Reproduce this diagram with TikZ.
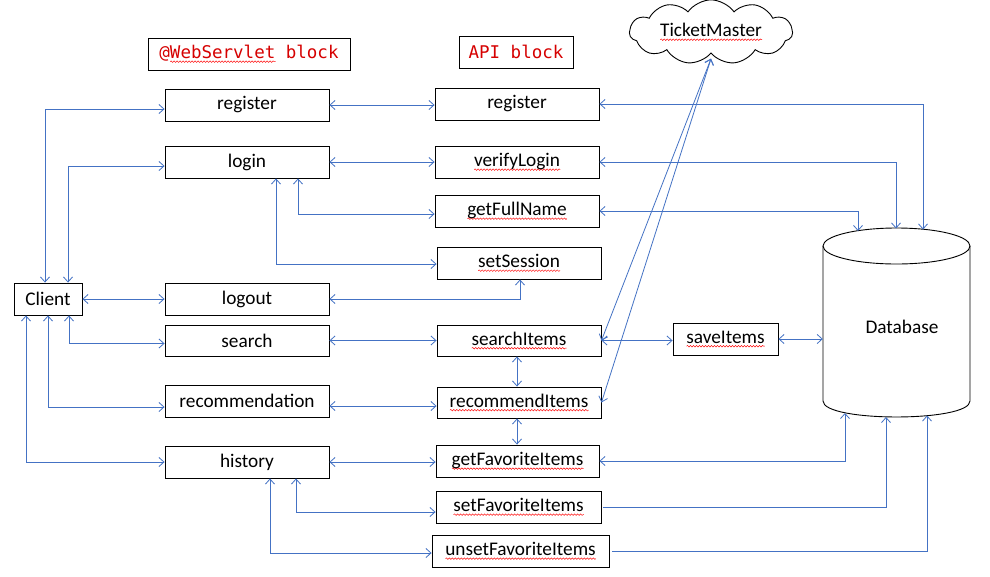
\documentclass[tikz,border=0pt]{standalone}
\usepackage{fontspec}
\setmainfont{Carlito}
\newfontfamily\codefont{DejaVu Sans Mono}
\usetikzlibrary{arrows.meta,shapes.symbols,calc,decorations.pathmorphing}
\definecolor{lblue}{HTML}{4472C4}
\definecolor{tred}{HTML}{D60000}
\newsavebox\sqwbox
\tikzset{sqline/.style={draw=red, line width=0.45pt, decorate, decoration={snake, amplitude=0.8pt, segment length=3pt}}}
\newcommand\sqw[1]{\sbox\sqwbox{#1}\rlap{\tikz[baseline=0pt]\path[sqline] (0pt,-3pt) -- (\wd\sqwbox,-3pt);}\usebox\sqwbox}
\newcommand\bodyfont{\fontsize{19.3pt}{22pt}\selectfont}
\tikzset{
  box/.style={draw, line width=0.9pt, minimum height=32pt, inner sep=0pt, font=\bodyfont},
  tbox/.style={draw, line width=0.9pt, minimum height=32pt, inner sep=0pt, text=tred, font=\codefont\fontsize{17.5pt}{20pt}\selectfont},
  conn/.style={draw=lblue, line width=0.8pt, arrows={Straight Barb[length=5pt,width=9pt]-Straight Barb[length=5pt,width=9pt]}},
  conn1/.style={draw=lblue, line width=0.8pt, arrows={-Straight Barb[length=5pt,width=9pt]}},
  dbline/.style={draw, line width=0.9pt},
}
\begin{document}
\begin{tikzpicture}[x=1pt,y=-1pt]
\useasboundingbox[fill=white] (0,0) rectangle (990,576);

% titles
\node[tbox, minimum width=202pt] (wt) at (249,54) {@\sqw{WebServlet} block};
\node[tbox, minimum width=114pt] (at) at (516,52) {API block};

% client
\node[box, minimum width=68pt] (client) at (48,299) {Client};

% servlet column
\node[box, minimum width=164pt] (sreg)    at (247,105) {register};
\node[box, minimum width=164pt] (slogin)  at (247,162) {login};
\node[box, minimum width=164pt] (slogout) at (247,299) {logout};
\node[box, minimum width=164pt, minimum height=31pt] (ssearch) at (247,340.5) {search};
\node[box, minimum width=164pt] (srec)    at (247,401) {recommendation};
\node[box, minimum width=164pt] (shist)   at (247,462) {history};

% API column
\node[box, minimum width=164pt] (areg)   at (517,104) {register};
\node[box, minimum width=164pt] (aver)   at (517,162) {\sqw{verifyLogin}};
\node[box, minimum width=164pt] (afull)  at (517,211) {\sqw{getFullName}};
\node[box, minimum width=164pt] (asess)  at (519,263) {\sqw{setSession}};
\node[box, minimum width=164pt, minimum height=31pt] (asearch) at (519,340.5) {\sqw{searchItems}};
\node[box, minimum width=164pt, minimum height=31pt] (arec) at (519,402.5) {\sqw{recommendItems}};
\node[box, minimum width=163pt] (agetf)  at (517.5,461) {\sqw{getFavoriteItems}};
\node[box, minimum width=165pt] (asetf)  at (518.5,507) {\sqw{setFavoriteItems}};
\node[box, minimum width=177pt] (aunset) at (520.5,551) {\sqw{unsetFavoriteItems}};

% saveItems
\node[box, minimum width=105pt] (save) at (725.5,339) {\sqw{saveItems}};

% TicketMaster cloud
\node[cloud, draw, line width=0.9pt, cloud puffs=11, cloud puff arc=110, aspect=3.2,
      minimum width=163pt, minimum height=52pt, inner sep=0pt, font=\bodyfont] (tm) at (711,32) {\sqw{TicketMaster}};
\coordinate (tmb) at ([yshift=-5pt]tm.south);

% Database cylinder
\node[minimum width=147pt, minimum height=155pt, inner sep=0pt, font=\bodyfont] (db) at (896.5,323.5) {};
\node[font=\bodyfont] (dblabel) at (902,327) {Database};
\draw[dbline] (823,246) -- (823,401) .. controls (823,422.3) and (970,422.3) .. (970,401) -- (970,246);
\draw[dbline] (896.5,246) ellipse [x radius=73.5, y radius=18];
\coordinate (dbt1) at (858,231);
\coordinate (dbt2) at (896,228.5);
\coordinate (dbt3) at (923,229.5);
\coordinate (dbb1) at (845,413);
\coordinate (dbb2) at (886,417);
\coordinate (dbb3) at (927,415.5);

% client connectors
\draw[conn] (45,0 |- client.north) |- ([yshift=-4pt]sreg.west);
\draw[conn] (68,0 |- client.north) |- ([yshift=-4pt]slogin.west);
\draw[conn] (client.east) -- (slogout.west);
\draw[conn] (69,0 |- client.south) |- ([yshift=-3pt]ssearch.west);
\draw[conn] (48,0 |- client.south) |- ([yshift=-6pt]srec.west);
\draw[conn] (26,0 |- client.south) |- (shist.west);

% servlet to API
\draw[conn] (sreg.east) -- (sreg.east -| areg.west);
\draw[conn] (slogin.east) -- (slogin.east -| aver.west);
\draw[conn] (298,0 |- slogin.south) |- ([yshift=-3pt]afull.west);
\draw[conn] (276,0 |- slogin.south) |- ([yshift=-1pt]asess.west);
\draw[conn] (slogout.east) -| (520,0 |- asess.south);
\draw[conn] (ssearch.east) -- (ssearch.east -| asearch.west);
\draw[conn] ([yshift=-5pt]srec.east) -- ([yshift=-5pt]srec.east -| arec.west);
\draw[conn] (shist.east) -- (shist.east -| agetf.west);
\draw[conn] (296,0 |- shist.south) |- ([yshift=-5pt]asetf.west);
\draw[conn] (270,0 |- shist.south) |- ([yshift=-2pt]aunset.west);

% API internal
\draw[conn] (517,0 |- asearch.south) -- (517,0 |- arec.north);
\draw[conn] (517,0 |- arec.south) -- (517,0 |- agetf.north);
\draw[conn] (asearch.east) -- (asearch.east -| save.west);
\draw[conn] (save.east) -- (save.east -| db.west);

% TicketMaster
\draw[conn] (tmb) -- (asearch.east);
\draw[conn] (tmb) -- (arec.east);

% database connectors
\draw[conn] (areg.east) -| (dbt3);
\draw[conn] (aver.east) -| (dbt2);
\draw[conn] (afull.east) -| (dbt1);
\draw[conn] (agetf.east) -| (dbb1);
\draw[conn1] ([xshift=2pt]asetf.east) -| (dbb2);
\draw[conn1] ([xshift=3pt]aunset.east) -| (dbb3);
\end{tikzpicture}
\end{document}
